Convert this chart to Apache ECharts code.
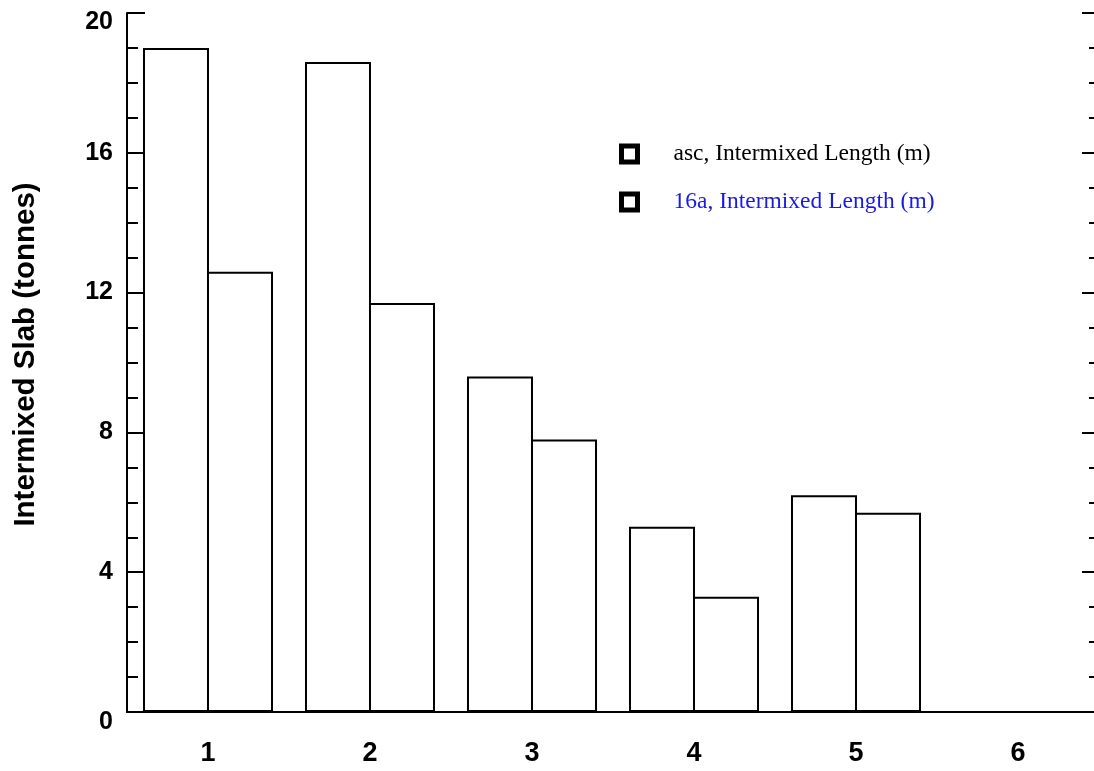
<!DOCTYPE html>
<html>
<head>
<meta charset="utf-8">
<script src="https://cdn.jsdelivr.net/npm/echarts@6/dist/echarts.min.js"></script>
<style>
html,body{margin:0;padding:0;background:#fff;}
#chart{width:1094px;height:771px;}
</style>
</head>
<body>
<div id="chart"></div>
<script>
const categories = ['1', '2', '3', '4', '5', '6'];
const ascValues = [19.0, 18.6, 9.6, 5.3, 6.2, null];
const a16Values = [12.6, 11.7, 7.8, 3.3, 5.7, null];
const seriesNames = ['asc, Intermixed Length (m)', '16a, Intermixed Length (m)'];
const yAxisTitle = 'Intermixed Slab (tonnes)';

const chart = echarts.init(document.getElementById('chart'));
const sansBold = {fontFamily: '"Liberation Sans", Arial, sans-serif', fontWeight: 'bold', color: '#000'};
const barStyle = {color: 'rgba(255,255,255,0)', borderColor: '#000', borderWidth: 2};

chart.setOption({
  animation: false,
  backgroundColor: '#fff',
  grid: {left: 127, top: 13, width: 972, height: 699, containLabel: false, outerBoundsMode: 'none'},
  legend: {
    orient: 'vertical',
    left: 619,
    top: 142,
    padding: 0,
    itemGap: 24,
    icon: 'rect',
    itemWidth: 16,
    itemHeight: 16,
    itemStyle: {color: '#fff', borderColor: '#000', borderWidth: 5},
    textStyle: {fontFamily: '"Liberation Serif", "Times New Roman", serif', fontSize: 23.5, padding: [0, 0, 0, 31]},
    data: [
      {name: seriesNames[0], textStyle: {color: '#000'}},
      {name: seriesNames[1], textStyle: {color: '#1c1cd8'}}
    ]
  },
  xAxis: [
    {
      type: 'category',
      data: categories,
      position: 'bottom',
      axisLine: {lineStyle: {color: '#000', width: 2}},
      axisTick: {show: false},
      axisLabel: Object.assign({fontSize: 27, margin: 28}, sansBold),
      splitLine: {show: false}
    },
    {
      type: 'category',
      data: categories,
      position: 'top',
      axisLine: {lineStyle: {color: '#000', width: 2}},
      axisTick: {show: false},
      axisLabel: {show: false},
      splitLine: {show: false}
    }
  ],
  yAxis: [
    {
      type: 'value',
      min: 0, max: 20, interval: 4,
      position: 'left',
      name: yAxisTitle,
      nameLocation: 'middle',
      nameGap: 86,
      nameRotate: 90,
      nameTextStyle: Object.assign({fontSize: 29.5, padding: [0, 0, 0, 16]}, sansBold),
      axisLine: {show: true, lineStyle: {color: '#000', width: 2}},
      axisTick: {show: true, inside: true, length: 18, lineStyle: {color: '#000', width: 2}},
      minorTick: {show: true, splitNumber: 4, length: 11, lineStyle: {color: '#000', width: 2}},
      axisLabel: Object.assign({
        fontSize: 25, margin: 14,
        formatter: function (v) {
          if (v === 20) return '{top|' + v + '}';
          if (v === 0) return '{bot|' + v + '}';
          return '{n|' + v + '}';
        },
        rich: {
          top: Object.assign({fontSize: 25, padding: [18, 0, 0, 0]}, sansBold),
          bot: Object.assign({fontSize: 25, padding: [20, 0, 0, 0]}, sansBold),
          n: Object.assign({fontSize: 25}, sansBold)
        }
      }, sansBold),
      splitLine: {show: false}
    },
    {
      type: 'value',
      min: 0, max: 20, interval: 4,
      position: 'right',
      axisLine: {show: true, lineStyle: {color: '#000', width: 2}},
      axisTick: {show: true, inside: true, length: 17, lineStyle: {color: '#000', width: 2}},
      minorTick: {show: true, splitNumber: 4, length: 10, lineStyle: {color: '#000', width: 2}},
      axisLabel: {show: false},
      splitLine: {show: false}
    }
  ],
  series: [
    {name: seriesNames[0], type: 'bar', data: ascValues, barWidth: 66, barGap: '-3%', itemStyle: barStyle},
    {name: seriesNames[1], type: 'bar', data: a16Values, barWidth: 66, barGap: '-3%', itemStyle: barStyle}
  ]
});
</script>
</body>
</html>
